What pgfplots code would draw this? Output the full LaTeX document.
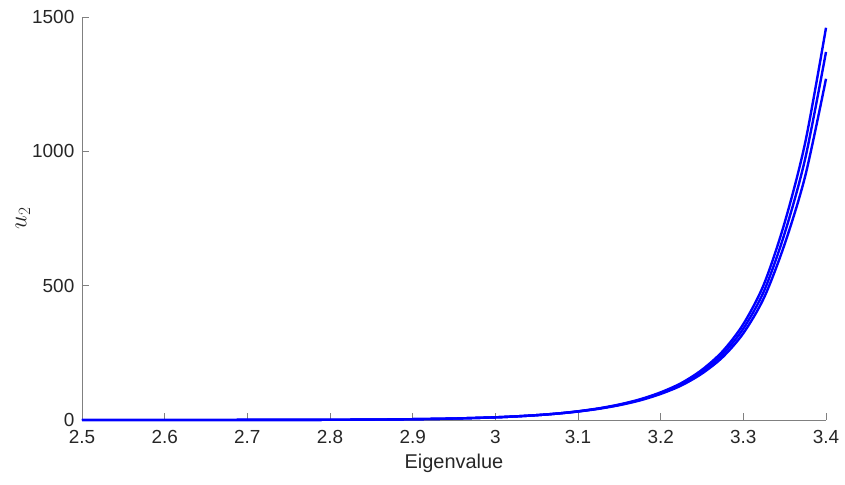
\documentclass[border=0pt]{standalone}
\usepackage{pgfplots}
\pgfplotsset{compat=1.18}
\usepackage{fontspec}
\setmainfont{Liberation Sans}
\definecolor{axgray}{RGB}{128,128,128}
\definecolor{txtgray}{RGB}{38,38,38}
\begin{document}
\begin{tikzpicture}
\begin{axis}[
  scale only axis,
  width=744bp, height=403bp,
  xmin=2.5, xmax=3.4, ymin=0, ymax=1500,
  axis x line*=bottom, axis y line*=left,
  axis line style={axgray, line width=0.6bp},
  xtick={2.5,2.6,...,3.41},
  xticklabels={2.5,2.6,2.7,2.8,2.9,3,3.1,3.2,3.3,3.4},
  ytick={0,500,1000,1500},
  yticklabels={0,500,1000,1500},
  scaled ticks=false,
  tick align=inside,
  major tick length=7bp,
  tick style={axgray, line width=0.6bp},
  ticklabel style={font=\fontsize{19}{22}\selectfont, text=txtgray, inner sep=0.5bp},
  xticklabel style={yshift=-10bp},
  yticklabel style={xshift=-7bp},
  xlabel={Eigenvalue},
  ylabel={$u_2$},
  xlabel style={font=\fontsize{20}{23}\selectfont, text=txtgray, yshift=-6bp},
  ylabel style={font=\fontsize{24}{26}\selectfont, text=txtgray, yshift=-2bp},
  clip=false,
]
\addplot[blue, line width=2.4bp, smooth] coordinates {
(2.5,0.02) (2.6,0.07) (2.7,0.25) (2.8,0.85) (2.85,1.6) (2.9,3.0) (2.95,5.5)
(3.0,10) (3.025,13.5) (3.05,18) (3.075,24) (3.1,32.5) (3.125,43.3) (3.15,57.8)
(3.175,77) (3.2,103) (3.225,137.5) (3.25,187) (3.275,256) (3.3,357) (3.325,506)
(3.35,735) (3.375,1035) (3.4,1460)};
\addplot[blue, line width=2.4bp, smooth] coordinates {
(2.5,0.02) (2.6,0.07) (2.7,0.25) (2.8,0.85) (2.85,1.6) (2.9,3.0) (2.95,5.5)
(3.0,10) (3.025,13.5) (3.05,18) (3.075,24) (3.1,32) (3.125,42.5) (3.15,56.5)
(3.175,75) (3.2,100) (3.225,133) (3.25,180) (3.275,245) (3.3,340) (3.325,480)
(3.35,695) (3.375,975) (3.4,1370)};
\addplot[blue, line width=2.4bp, smooth] coordinates {
(2.5,0.02) (2.6,0.07) (2.7,0.25) (2.8,0.85) (2.85,1.6) (2.9,3.0) (2.95,5.5)
(3.0,10) (3.025,13.5) (3.05,18) (3.075,24) (3.1,31.5) (3.125,41.7) (3.15,55.2)
(3.175,73) (3.2,97) (3.225,128.5) (3.25,173) (3.275,234) (3.3,323) (3.325,455)
(3.35,655) (3.375,910) (3.4,1270)};
\coordinate (bl) at (rel axis cs:0,0);
\coordinate (tr) at (rel axis cs:1,1);
\end{axis}
\path ([shift={(-82bp,-64bp)}]bl) rectangle ([shift={(19bp,17bp)}]tr);
\end{tikzpicture}
\end{document}
